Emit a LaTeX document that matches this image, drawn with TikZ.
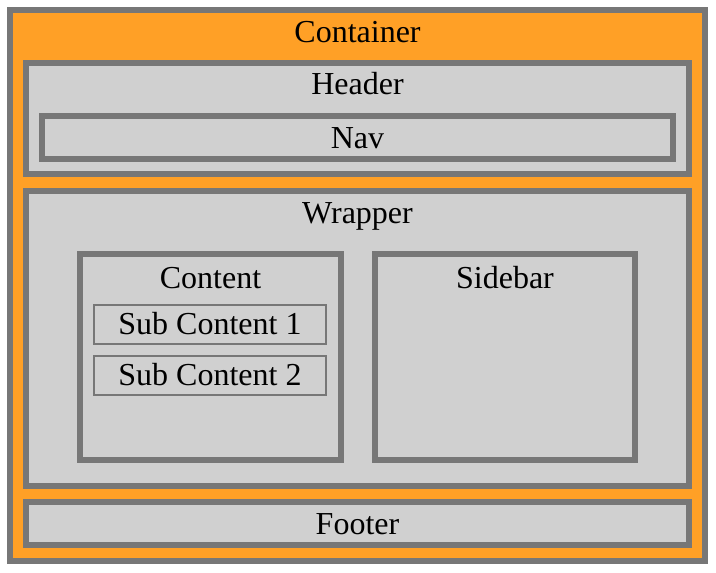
\documentclass[tikz,border=0pt]{standalone}
\usepackage{fontspec}
\setmainfont{Liberation Serif}
\usepackage{xcolor}
\usepackage{tikz}
\usetikzlibrary{positioning}

\definecolor{boxorange}{RGB}{255,160,38}
\definecolor{boxgray}{RGB}{208,208,208}
\definecolor{edgegray}{RGB}{119,119,119}

\begin{document}
\begin{tikzpicture}[x=1pt, y=-1pt, font=\fontsize{32}{38}\selectfont,
  region/.style={draw=edgegray, line width=6pt, fill=boxgray, rectangle, inner sep=0pt},
  subregion/.style={draw=edgegray, line width=2pt, fill=boxgray, rectangle, inner sep=0pt},
  tag/.style={anchor=base, inner sep=0pt}]
\useasboundingbox (0,0) rectangle (716,573);
\node[region, fill=boxorange, minimum width=695pt, minimum height=551pt] (container) at (357.5,285.5) {};
\node[region, minimum width=663pt, minimum height=111pt] (header) at (357.5,118.5) {};
\node[region, minimum width=631pt, minimum height=43pt] (nav) at (357.5,137.5) {};
\node[region, minimum width=663pt, minimum height=295pt] (wrapper) at (357.5,338.5) {};
\node[region, minimum width=663pt, minimum height=43pt] (footer) at (357.5,523.5) {};
\node[region, minimum width=261pt, minimum height=206pt] (content) at (210.5,357) {};
\node[region, minimum width=260pt, minimum height=206pt] (sidebar) at (505,357) {};
\node[subregion, minimum width=232pt, minimum height=39pt] (sub1) at (210,324.5) {};
\node[subregion, minimum width=232pt, minimum height=39pt] (sub2) at (210,375.5) {};
% labels
\node[tag] (containertext) at (357.5,42) {Container};
\node[tag] (headertext) at (357.5,94) {Header};
\node[tag] (navtext) at (357.5,148) {Nav};
\node[tag] (wrappertext) at (357.5,223) {Wrapper};
\node[tag] (contenttext) at (210.5,288) {Content};
\node[tag] (sidebartext) at (505,288) {Sidebar};
\node[tag] (sub1text) at (210,334) {Sub Content 1};
\node[tag] (sub2text) at (210,385) {Sub Content 2};
\node[tag] (footertext) at (357.5,534) {Footer};
\end{tikzpicture}
\end{document}
